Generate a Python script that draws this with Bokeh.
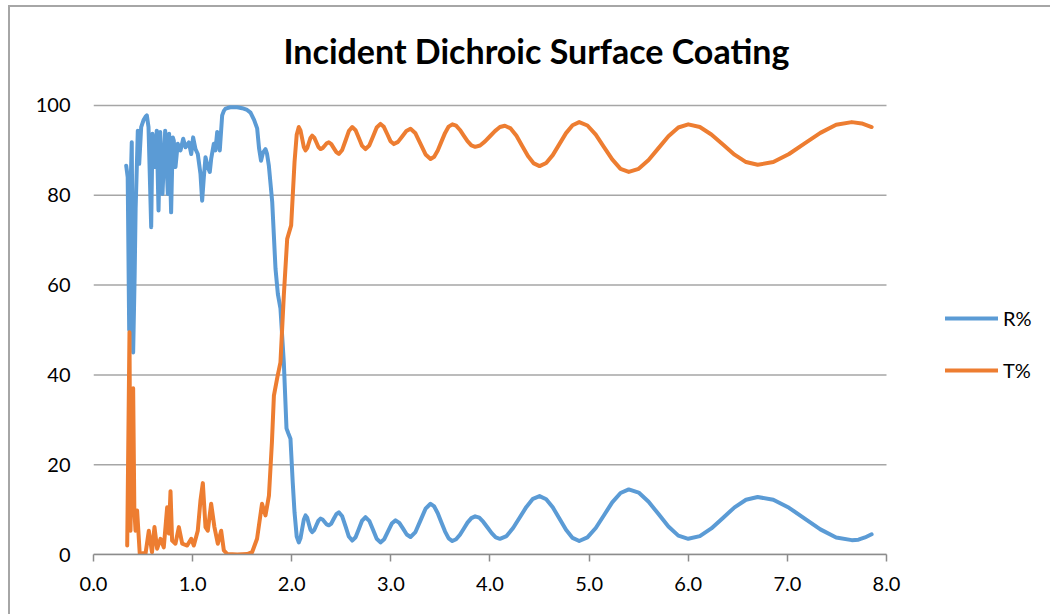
from bokeh.plotting import figure
from bokeh.models import Legend, LegendItem, FixedTicker, NumeralTickFormatter, Range1d, Label
from bokeh.embed import file_html
from bokeh.resources import INLINE

title_text = "Incident Dichroic Surface Coating"
series_names = ["R%", "T%"]
x_ticks = [0, 1, 2, 3, 4, 5, 6, 7, 8]
y_ticks = [0, 20, 40, 60, 80, 100]

r_x = [0.33, 0.345, 0.36, 0.372, 0.386, 0.40, 0.415, 0.425, 0.437, 0.447, 0.461, 0.481,
       0.504, 0.525, 0.538, 0.555, 0.582, 0.595, 0.622, 0.638, 0.656, 0.673, 0.696, 0.723,
       0.75, 0.763, 0.783, 0.80, 0.81, 0.827, 0.85, 0.878, 0.905, 0.928, 0.962, 0.986,
       1.005, 1.029, 1.052, 1.079, 1.096, 1.113, 1.13, 1.153, 1.173, 1.187, 1.214, 1.23,
       1.248, 1.274, 1.298, 1.315, 1.332, 1.38, 1.45, 1.50, 1.55, 1.584, 1.62, 1.651, 1.67, 1.69,
       1.71, 1.735, 1.75, 1.769, 1.803, 1.836, 1.86, 1.886, 1.92, 1.947, 1.965, 1.987,
       2.01, 2.028, 2.05, 2.071, 2.088, 2.105, 2.122, 2.139, 2.156, 2.172, 2.189, 2.206,
       2.227, 2.248, 2.269, 2.29, 2.311, 2.332, 2.353, 2.374, 2.399, 2.424, 2.45, 2.475,
       2.509, 2.543, 2.576, 2.61, 2.644, 2.677, 2.71, 2.744, 2.782, 2.82, 2.857, 2.895,
       2.933, 2.971, 3.009, 3.047, 3.085, 3.123, 3.16, 3.198, 3.248, 3.299, 3.35, 3.40,
       3.437, 3.473, 3.51, 3.547, 3.583, 3.62, 3.658, 3.697, 3.735, 3.773, 3.812, 3.85,
       3.892, 3.933, 3.975, 4.017, 4.058, 4.10, 4.167, 4.233, 4.30, 4.367, 4.433, 4.50,
       4.567, 4.633, 4.70, 4.767, 4.833, 4.90, 4.983, 5.067, 5.15, 5.233, 5.317, 5.40,
       5.50, 5.60, 5.70, 5.80, 5.90, 6.00, 6.117, 6.233, 6.35, 6.467, 6.583, 6.70,
       6.858, 7.017, 7.175, 7.333, 7.492, 7.65, 7.717, 7.783, 7.85]
r_y = [86.6, 84.0, 50.0, 80.0, 91.8, 45.0, 62.0, 77.0, 86.3, 94.4, 87.0, 95.2,
       96.7, 97.5, 97.8, 95.2, 72.9, 93.7, 86.3, 94.4, 76.6, 94.1, 80.3, 94.4,
       80.3, 93.7, 76.2, 92.9, 92.2, 86.3, 91.5, 90.0, 92.6, 90.7, 91.8, 89.2,
       92.9, 90.3, 89.2, 84.8, 78.8, 84.0, 88.5, 86.3, 85.2, 88.1, 91.5, 90.0,
       94.1, 90.0, 97.8, 98.8, 99.3, 99.6, 99.6, 99.4, 99.0, 98.4, 96.8, 94.9, 90.5, 87.7,
       89.5, 90.3, 89.3, 86.6, 78.5, 63.7, 58.0, 54.8, 42.8, 28.1, 27.0, 25.8,
       16.0, 9.4, 4.0, 2.7, 3.6, 5.7, 7.8, 8.7, 8.2, 6.85, 5.5, 5.0,
       5.45, 6.5, 7.55, 8.0, 7.8, 7.25, 6.7, 6.5, 6.9, 7.95, 9.0, 9.4,
       8.5, 6.25, 4.0, 3.1, 3.85, 5.7, 7.55, 8.3, 7.5, 5.5, 3.5, 2.7,
       3.4, 5.15, 6.9, 7.6, 7.05, 5.75, 4.45, 3.9, 5.0, 7.6, 10.2, 11.3,
       10.7, 9.2, 7.15, 5.1, 3.6, 3.0, 3.4, 4.4, 5.75, 7.1, 8.1, 8.5,
       8.2, 7.25, 6.0, 4.75, 3.8, 3.5, 4.1, 5.9, 8.25, 10.6, 12.4, 13.0,
       12.3, 10.5, 8.0, 5.5, 3.7, 3.0, 3.8, 5.9, 8.75, 11.6, 13.7, 14.5,
       13.8, 11.75, 9.0, 6.25, 4.2, 3.5, 4.1, 5.8, 8.15, 10.5, 12.2, 12.8,
       12.2, 10.4, 8.0, 5.6, 3.8, 3.2, 3.3, 3.8, 4.5]

t_x = [0.34, 0.363, 0.373, 0.385, 0.40, 0.412, 0.424, 0.44, 0.467, 0.50, 0.525, 0.558,
       0.59, 0.615, 0.642, 0.676, 0.709, 0.743, 0.76, 0.777, 0.793, 0.827, 0.861, 0.895,
       0.945, 0.986, 1.012, 1.052, 1.079, 1.103, 1.13, 1.153, 1.187, 1.22, 1.254, 1.288,
       1.315, 1.35, 1.45, 1.55, 1.60, 1.65, 1.70, 1.735, 1.77, 1.80, 1.82, 1.855, 1.886,
       1.92, 1.954, 1.994, 2.028, 2.05, 2.071, 2.088, 2.105, 2.122, 2.139, 2.156, 2.172,
       2.189, 2.206, 2.227, 2.248, 2.269, 2.29, 2.311, 2.332, 2.353, 2.374, 2.399, 2.424,
       2.45, 2.475, 2.509, 2.543, 2.576, 2.61, 2.644, 2.677, 2.71, 2.744, 2.782, 2.82,
       2.857, 2.895, 2.929, 2.963, 2.996, 3.03, 3.072, 3.114, 3.156, 3.198, 3.248, 3.299,
       3.35, 3.40, 3.437, 3.473, 3.51, 3.547, 3.583, 3.62, 3.658, 3.697, 3.735, 3.773,
       3.812, 3.85, 3.90, 3.95, 4.0, 4.05, 4.10, 4.15, 4.208, 4.267, 4.325, 4.383, 4.442,
       4.50, 4.567, 4.633, 4.70, 4.767, 4.833, 4.90, 4.983, 5.067, 5.15, 5.233, 5.317,
       5.40, 5.50, 5.60, 5.70, 5.80, 5.90, 6.00, 6.117, 6.233, 6.35, 6.467, 6.583, 6.70,
       6.858, 7.017, 7.175, 7.333, 7.492, 7.65, 7.75, 7.85]
t_y = [2.0, 49.5, 5.3, 20.0, 37.0, 10.0, 5.3, 9.8, 0.0, 0.3, 0.2, 5.3,
       0.5, 6.1, 1.3, 3.5, 1.6, 10.5, 4.7, 14.1, 3.1, 2.4, 6.1, 2.4,
       2.0, 3.5, 2.0, 5.3, 12.0, 15.9, 6.1, 5.3, 11.3, 6.1, 2.4, 5.3,
       0.9, 0.1, 0.0, 0.1, 0.5, 3.5, 11.3, 8.7, 13.1, 25.0, 35.4, 39.5, 42.8,
       57.7, 70.3, 73.3, 87.4, 93.5, 95.2, 94.45, 92.6, 90.75, 90.0, 90.5, 91.65,
       92.8, 93.3, 92.85, 91.8, 90.75, 90.3, 90.5, 91.05, 91.6, 91.8, 91.4, 90.5,
       89.6, 89.2, 90.1, 92.2, 94.3, 95.2, 94.5, 92.75, 91.0, 90.3, 91.1, 93.1,
       95.1, 95.9, 95.25, 93.65, 92.05, 91.4, 91.9, 93.1, 94.3, 94.8, 93.8, 91.45,
       89.1, 88.1, 88.6, 90.0, 91.95, 93.9, 95.3, 95.8, 95.5, 94.55, 93.3, 92.05,
       91.1, 90.8, 91.1, 92.0, 93.15, 94.3, 95.2, 95.5, 94.9, 93.25, 91.0, 88.75, 87.1,
       86.5, 87.2, 88.95, 91.4, 93.85, 95.6, 96.3, 95.55, 93.5, 90.75, 88.0, 85.9,
       85.2, 85.9, 87.85, 90.5, 93.15, 95.1, 95.8, 95.2, 93.55, 91.3, 89.05, 87.4, 86.8,
       87.4, 89.2, 91.55, 93.9, 95.7, 96.3, 96.0, 95.2]

FONT = "Lato"
BLUE = "#5b9bd5"
ORANGE = "#ed7d31"
GRID = "#a6a6a6"

# frame spans the whole canvas right of the y labels; axis/grid limited to 0..8 / 0..100
p = figure(width=1042, height=609, x_range=Range1d(0, 9.6747), y_range=Range1d(0, 121.826),
           output_backend="svg", toolbar_location=None,
           min_border_left=83, min_border_right=0, min_border_top=0, min_border_bottom=62)
p.styles = {"margin-left": "8px", "margin-top": "5px",
            "border-left": "2px solid #a6a6a6", "border-top": "2px solid #a6a6a6"}
p.outline_line_color = None
p.background_fill_color = "white"
p.border_fill_color = "white"
p.grid.visible = False

n = len(y_ticks)
p.segment(x0=[x_ticks[0]] * n, x1=[x_ticks[-1]] * n, y0=y_ticks, y1=y_ticks,
          line_color=GRID, line_width=1.5)

r_line = p.line(r_x, r_y, line_color=BLUE, line_width=4, line_join="round", line_cap="round")
t_line = p.line(t_x, t_y, line_color=ORANGE, line_width=4, line_join="round", line_cap="round")

p.xaxis.ticker = FixedTicker(ticks=x_ticks)
p.xaxis.bounds = (x_ticks[0], x_ticks[-1])
p.xaxis.formatter = NumeralTickFormatter(format="0.0")
p.xaxis.axis_line_color = "#8c8c8c"
p.xaxis.axis_line_width = 1.5
p.xaxis.major_tick_line_color = "#8c8c8c"
p.xaxis.major_tick_line_width = 1.5
p.xaxis.major_tick_out = 7
p.xaxis.major_tick_in = 0
p.xaxis.minor_tick_line_color = None
p.xaxis.major_label_standoff = 15
p.xaxis.major_label_text_font = FONT
p.xaxis.major_label_text_font_size = "20px"
p.xaxis.major_label_text_color = "#000000"

p.yaxis.ticker = FixedTicker(ticks=y_ticks)
p.yaxis.axis_line_color = None
p.yaxis.major_tick_line_color = None
p.yaxis.major_tick_out = 0
p.yaxis.major_tick_in = 0
p.yaxis.minor_tick_line_color = None
p.yaxis.major_label_standoff = 23
p.yaxis.major_label_text_font = FONT
p.yaxis.major_label_text_font_size = "20px"
p.yaxis.major_label_text_color = "#000000"

title = Label(x=4.469, y=112.25, text=title_text, text_align="center", text_baseline="middle",
              text_font=FONT, text_font_style="bold", text_font_size="34px", text_color="#000000")
p.add_layout(title)

legend = Legend(items=[LegendItem(label=series_names[0], renderers=[r_line]),
                       LegendItem(label=series_names[1], renderers=[t_line])],
                location=(852, 172), margin=0, padding=0, spacing=28,
                glyph_width=53, glyph_height=20, label_height=20, label_standoff=5,
                label_text_font=FONT, label_text_font_size="20px", label_text_color="#000000",
                border_line_color=None, background_fill_alpha=0)
p.add_layout(legend)

open("out.html", "w").write(file_html(p, INLINE))
